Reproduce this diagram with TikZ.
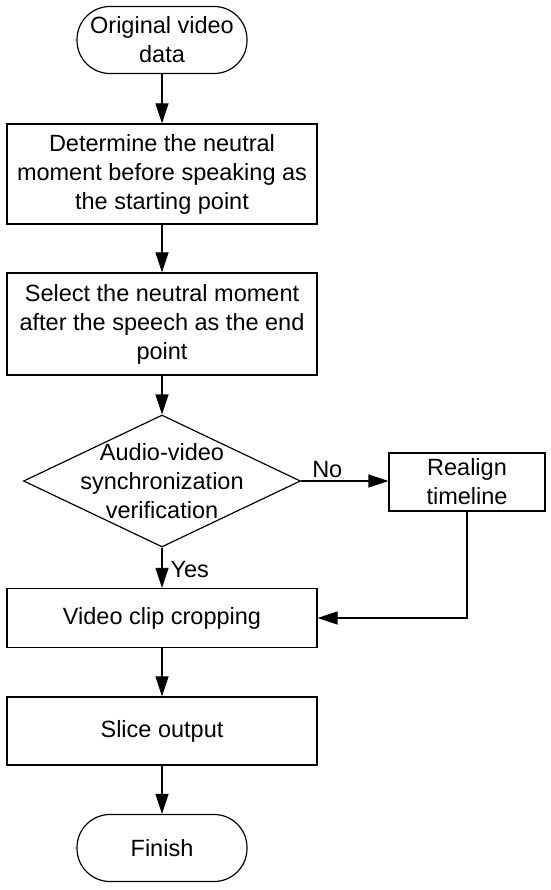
\documentclass[tikz,border=0pt]{standalone}
\usepackage{fontspec}
\setmainfont{Liberation Sans}
\usetikzlibrary{arrows.meta,shapes.geometric}
\begin{document}
\begin{tikzpicture}[x=1pt,y=-1pt,
  every node/.style={font=\fontsize{23.5}{29}\selectfont},
  term/.style={draw,line width=1.2pt,rounded corners=33pt,minimum width=170pt,minimum height=67pt,align=center,inner sep=0pt},
  proc/.style={draw,line width=1.2pt,minimum width=310pt,align=center,inner sep=0pt},
  decide/.style={draw,diamond,line width=1.2pt,minimum width=277pt,minimum height=132pt,inner sep=0pt},
  flow/.style={line width=1.2pt,-{Triangle[length=20pt,width=13pt]}}]
  \useasboundingbox (0,0) rectangle (550,890);
  \node[term] (start) at (162,40) {Original video\\data};
  \node[proc,minimum height=100pt] (first) at (162,174) {Determine the neutral\\moment before speaking as\\the starting point};
  \node[proc,minimum height=102pt] (last) at (162,324) {Select the neutral moment\\after the speech as the end\\point};
  \node[decide] (check) at (162,481) {};
  \node[align=center,inner sep=0pt] (checktxt) at (162,481) {Audio-video\\synchronization\\verification};
  \node[proc,minimum width=156pt,minimum height=58pt] (realign) at (467,482) {Realign\\timeline};
  \node[proc,minimum height=59pt] (crop) at (162,618) {Video clip cropping};
  \node[proc,minimum height=68pt] (slice) at (162,731) {Slice output};
  \node[term] (finish) at (162,848) {Finish};
  \draw[flow] (start) -- (first);
  \draw[flow] (first) -- (last);
  \draw[flow] (last) -- (check);
  \draw[flow] (check.east) -- node[pos=0.3,above,inner sep=3pt] (no) {No} (check.east -| realign.west);
  \draw[flow] (check) -- node[right,inner sep=8pt,yshift=-2pt] (yes) {Yes} (crop);
  \draw[flow] (realign.south) |- (crop.east);
  \draw[flow] (crop) -- (slice);
  \draw[flow] (slice) -- (finish);
\end{tikzpicture}
\end{document}
